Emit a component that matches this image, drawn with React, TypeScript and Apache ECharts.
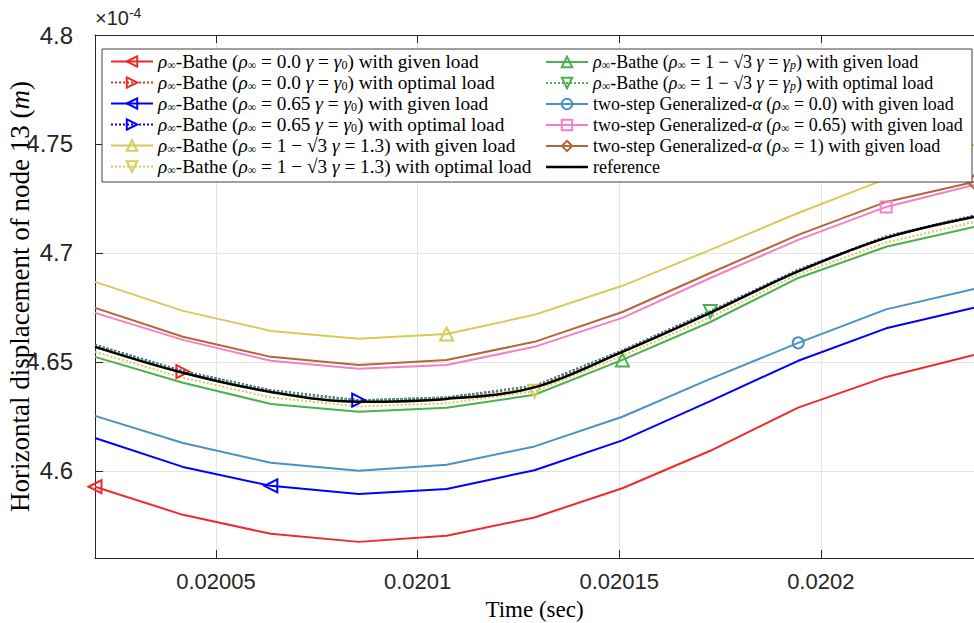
import React, { useEffect, useRef } from "react";
import * as echarts from "echarts";

// Time steps (sec)
const TIME = [0.02002, 0.0200418, 0.0200636, 0.0200854, 0.0201072, 0.020129, 0.0201508, 0.0201726, 0.0201944, 0.0202162, 0.020238];

// Horizontal displacement (x 1e-4 m)
const RED_GIVEN = [4.5927, 4.5798, 4.5711, 4.5674, 4.5702, 4.5786, 4.592, 4.6092, 4.629, 4.6431, 4.6532];
const RED_OPT = [4.6573, 4.6455, 4.6366, 4.6321, 4.6334, 4.6386, 4.6549, 4.6729, 4.6919, 4.7072, 4.7168];
const BLUE_GIVEN = [4.6151, 4.6018, 4.5931, 4.5894, 4.5917, 4.6003, 4.614, 4.632, 4.6505, 4.6654, 4.6748];
const BLUE_OPT = [4.6578, 4.6458, 4.637, 4.6324, 4.6337, 4.639, 4.6553, 4.6733, 4.6923, 4.7076, 4.7172];
const YELLOW_GIVEN = [4.6867, 4.6734, 4.6642, 4.6606, 4.6628, 4.6716, 4.6849, 4.7014, 4.7183, 4.734, 4.7495];
const YELLOW_OPT = [4.6546, 4.6427, 4.6337, 4.6295, 4.631, 4.6365, 4.6528, 4.6705, 4.6902, 4.7048, 4.7142];
const GREEN_GIVEN = [4.6523, 4.6404, 4.6307, 4.6271, 4.6289, 4.6349, 4.6509, 4.6683, 4.6885, 4.7028, 4.7119];
const GREEN_OPT = [4.6575, 4.6456, 4.6368, 4.6323, 4.6336, 4.6389, 4.6552, 4.6731, 4.6921, 4.7074, 4.717];
const GA_RHO0 = [4.6252, 4.6128, 4.6037, 4.6, 4.6028, 4.6112, 4.6248, 4.6422, 4.6587, 4.6741, 4.6835];
const GA_RHO065 = [4.6725, 4.6601, 4.6505, 4.6468, 4.6486, 4.6569, 4.6702, 4.6885, 4.706, 4.7211, 4.7312];
const GA_RHO1 = [4.6748, 4.6615, 4.6523, 4.6486, 4.6509, 4.6592, 4.6729, 4.6908, 4.7083, 4.7234, 4.7326];
const REFERENCE = [4.6569, 4.645, 4.6362, 4.6317, 4.633, 4.6383, 4.6546, 4.6725, 4.6915, 4.7069, 4.7165];

const SERIES_NAMES = [
  "ρ∞-Bathe (ρ∞ = 0.0 γ = γ0) with given load",
  "ρ∞-Bathe (ρ∞ = 0.0 γ = γ0) with optimal load",
  "ρ∞-Bathe (ρ∞ = 0.65 γ = γ0) with given load",
  "ρ∞-Bathe (ρ∞ = 0.65 γ = γ0) with optimal load",
  "ρ∞-Bathe (ρ∞ = 1 − √3 γ = 1.3) with given load",
  "ρ∞-Bathe (ρ∞ = 1 − √3 γ = 1.3) with optimal load",
  "ρ∞-Bathe (ρ∞ = 1 − √3 γ = γp) with given load",
  "ρ∞-Bathe (ρ∞ = 1 − √3 γ = γp) with optimal load",
  "two-step Generalized-α (ρ∞ = 0.0) with given load",
  "two-step Generalized-α (ρ∞ = 0.65) with given load",
  "two-step Generalized-α (ρ∞ = 1) with given load",
  "reference",
];

const LEGEND_RICH = [
  "{i|ρ}{s|∞}-Bathe ({i|ρ}{s|∞} = 0.0 {i|γ} = {i|γ}{s|0}) with given load",
  "{i|ρ}{s|∞}-Bathe ({i|ρ}{s|∞} = 0.0 {i|γ} = {i|γ}{s|0}) with optimal load",
  "{i|ρ}{s|∞}-Bathe ({i|ρ}{s|∞} = 0.65 {i|γ} = {i|γ}{s|0}) with given load",
  "{i|ρ}{s|∞}-Bathe ({i|ρ}{s|∞} = 0.65 {i|γ} = {i|γ}{s|0}) with optimal load",
  "{i|ρ}{s|∞}-Bathe ({i|ρ}{s|∞} = 1 − √3 {i|γ} = 1.3) with given load",
  "{i|ρ}{s|∞}-Bathe ({i|ρ}{s|∞} = 1 − √3 {i|γ} = 1.3) with optimal load",
  "{i|ρ}{s|∞}-Bathe ({i|ρ}{s|∞} = 1 − √3 {i|γ} = {i|γ}{si|p}) with given load",
  "{i|ρ}{s|∞}-Bathe ({i|ρ}{s|∞} = 1 − √3 {i|γ} = {i|γ}{si|p}) with optimal load",
  "two-step Generalized-{i|α} ({i|ρ}{s|∞} = 0.0) with given load",
  "two-step Generalized-{i|α} ({i|ρ}{s|∞} = 0.65) with given load",
  "two-step Generalized-{i|α} ({i|ρ}{s|∞} = 1) with given load",
  "reference",
];

const VALUES = [RED_GIVEN, RED_OPT, BLUE_GIVEN, BLUE_OPT, YELLOW_GIVEN, YELLOW_OPT, GREEN_GIVEN, GREEN_OPT, GA_RHO0, GA_RHO065, GA_RHO1, REFERENCE];
const COLORS = ["#ee2b2b", "#ee2b2b", "#0000ff", "#0000ff", "#d8cb5c", "#d8cb5c", "#4cb04c", "#4cb04c", "#4a91c4", "#f47fc4", "#b4663a", "#000000"];
const DOTTED = [false, true, false, true, false, true, false, true, false, false, false, false];
const SYMBOLS = ["triangle", "triangle", "triangle", "triangle", "triangle", "triangle", "triangle", "triangle", "circle", "rect", "diamond", "none"];
const ROTATES = [90, -90, 90, -90, 0, 180, 0, 180, 0, 0, 0, 0];
const MARK_INDEX = [0, 1, 2, 3, 4, 5, 6, 7, 8, 9, 10, -1];

const fmtNum = (v: number) => String(parseFloat(v.toPrecision(6)));

function legendTextStyle(fs: number) {
  return {
    fontFamily: "Liberation Serif",
    fontSize: fs,
    color: "#000",
    lineHeight: 16,
    rich: {
      i: { fontFamily: "Liberation Serif", fontSize: fs, fontStyle: "italic", lineHeight: 16 },
      s: { fontFamily: "Liberation Serif", fontSize: 12, lineHeight: 10, padding: [6, 0, 0, 0] },
      si: { fontFamily: "Liberation Serif", fontSize: 12, fontStyle: "italic", lineHeight: 10, padding: [6, 0, 0, 0] },
    },
  };
}

export default function App() {
  const ref = useRef<HTMLDivElement>(null);
  useEffect(() => {
    if (!ref.current) return;
    const chart = echarts.init(ref.current, undefined, { renderer: "svg" });
    const axisColor = "#262626";
    const series = VALUES.map((vals, k) => ({
      type: "line",
      name: SERIES_NAMES[k],
      data: vals.map((v, i) => (i === MARK_INDEX[k] ? { value: [TIME[i], v] } : { value: [TIME[i], v], symbol: "none" })),
      symbol: SYMBOLS[k],
      symbolSize: SYMBOLS[k] === "circle" || SYMBOLS[k] === "rect" ? 11 : 13,
      symbolRotate: ROTATES[k],
      showSymbol: true,
      showAllSymbol: true,
      smooth: k === 11 ? 0.35 : false,
      lineStyle: { color: COLORS[k], width: k === 11 ? 2.5 : 2, type: DOTTED[k] ? "dotted" : "solid" },
      itemStyle: { color: "rgba(255,255,255,0)", borderColor: COLORS[k], borderWidth: 2 },
      z: k === 11 ? 3 : 2,
      emphasis: { disabled: true },
    }));
    const legendBase = {
      orient: "vertical",
      itemWidth: 42,
      itemHeight: 13,
      padding: 0,
      selectedMode: false,
      formatter: (name: string) => LEGEND_RICH[SERIES_NAMES.indexOf(name)],
      z: 5,
    };
    const legend2Data: any[] = SERIES_NAMES.slice(6).map((n) =>
      n === "reference"
        ? { name: n, icon: "path://M0 0 H42 V2.5 H0 Z", itemStyle: { color: "#000", borderWidth: 0 } }
        : { name: n }
    );
    chart.setOption({
      animation: false,
      backgroundColor: "#fff",
      grid: { left: 95, top: 35, right: 0, bottom: 65, outerBoundsMode: "none", containLabel: false },
      xAxis: [
        {
          type: "value",
          min: 0.02002,
          max: 0.020238,
          splitNumber: 4,
          axisLine: { show: true, lineStyle: { color: axisColor, width: 1 } },
          axisTick: { show: true, inside: true, length: 8, lineStyle: { color: axisColor } },
          axisLabel: {
            showMinLabel: false,
            showMaxLabel: false,
            formatter: fmtNum,
            fontFamily: "Liberation Sans",
            fontSize: 22,
            color: axisColor,
            margin: 12,
          },
          splitLine: { show: true, lineStyle: { color: "#e3e3e3", width: 1 } },
          name: "Time (sec)",
          nameLocation: "middle",
          nameGap: 40,
          nameMoveOverlap: false,
          nameTextStyle: { fontFamily: "Liberation Serif", fontSize: 23, color: "#000" },
        },
        {
          type: "value",
          position: "top",
          min: 0.02002,
          max: 0.020238,
          splitNumber: 4,
          axisLine: { show: true, onZero: false, lineStyle: { color: axisColor, width: 1 } },
          axisTick: { show: true, inside: true, length: 8, lineStyle: { color: axisColor } },
          axisLabel: { show: false },
          splitLine: { show: false },
        },
      ],
      yAxis: [
        {
          type: "value",
          min: 4.56,
          max: 4.8,
          splitNumber: 5,
          axisLine: { show: true, lineStyle: { color: axisColor, width: 1 } },
          axisTick: { show: true, inside: true, length: 8, lineStyle: { color: axisColor } },
          axisLabel: {
            showMinLabel: false,
            formatter: fmtNum,
            fontFamily: "Liberation Sans",
            fontSize: 24,
            color: axisColor,
            margin: 22,
          },
          splitLine: { show: true, lineStyle: { color: "#e3e3e3", width: 1 } },
          name: "Horizontal displacement of node 13 ({i|m})",
          nameLocation: "middle",
          nameGap: 62,
          nameRotate: 90,
          nameMoveOverlap: false,
          nameTextStyle: {
            fontFamily: "Liberation Serif",
            fontSize: 27,
            color: "#000",
            rich: { i: { fontFamily: "Liberation Serif", fontSize: 27, fontStyle: "italic" } },
          },
        },
      ],
      legend: [
        { ...legendBase, left: 110, top: 52, itemGap: 2, textStyle: legendTextStyle(19.3), data: SERIES_NAMES.slice(0, 6) },
        { ...legendBase, left: 545, top: 53, itemGap: 3, textStyle: legendTextStyle(18), data: legend2Data },
      ],
      graphic: [
        {
          type: "rect",
          z: 4,
          shape: { x: 102, y: 49, width: 870, height: 133 },
          style: { fill: "#fff", stroke: "#404040", lineWidth: 1 },
        },
        {
          type: "text",
          x: 95,
          y: 6,
          z: 5,
          style: {
            text: "×10{sup|-4}",
            fontFamily: "Liberation Sans",
            fontSize: 20,
            fill: axisColor,
            rich: { sup: { fontFamily: "Liberation Sans", fontSize: 14, padding: [0, 0, 10, 0] } },
          },
        },
      ],
      series,
    });
    return () => chart.dispose();
  }, []);
  return <div ref={ref} style={{ position: "fixed", left: 0, top: 0, width: 974, height: 623 }} />;
}
